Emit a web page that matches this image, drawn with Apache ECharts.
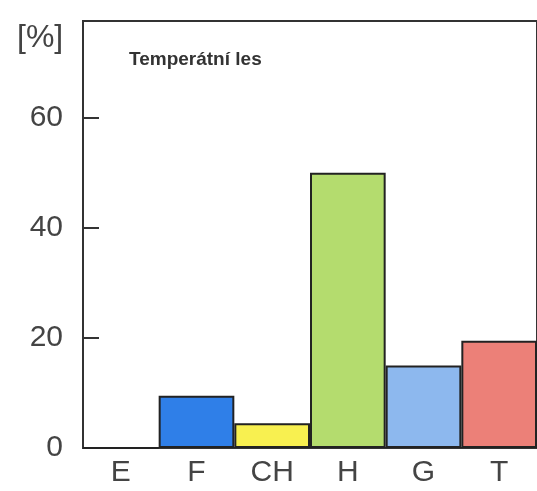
<!DOCTYPE html>
<html>
<head>
<meta charset="utf-8">
<script src="https://cdn.jsdelivr.net/npm/echarts@6/dist/echarts.min.js"></script>
<style>
  html, body { margin: 0; padding: 0; background: #fff; }
  #chart { width: 537px; height: 491px; }
</style>
</head>
<body>
<div id="chart"></div>
<script>
const categories = ['E', 'F', 'CH', 'H', 'G', 'T']
const shares = [0, 9.5, 4.5, 50, 15, 19.5]
const barColors = ['#ffffff', '#2f7fe8', '#f8f050', '#b4dc6e', '#8db8ee', '#ec8078']

const chart = echarts.init(document.getElementById('chart'))
chart.setOption({
  animation: false,
  title: [
    { text: '[%]', left: 12, top: 17, textStyle: { fontSize: 32, fontWeight: 'normal', color: '#444', fontFamily: 'Liberation Sans' } },
    { text: 'Temperátní les', left: 124, top: 45, textStyle: { fontSize: 19, fontWeight: 'bold', color: '#333', fontFamily: 'Liberation Sans' } }
  ],
  grid: { left: 83, right: -3, top: 21, bottom: 43, show: true, borderColor: '#333', borderWidth: 2 },
  xAxis: {
    type: 'category',
    data: categories,
    axisLine: { lineStyle: { color: '#333', width: 2 } },
    axisTick: { show: false },
    axisLabel: { fontSize: 30, color: '#444', margin: 10, fontFamily: 'Liberation Sans' }
  },
  yAxis: {
    type: 'value',
    min: 0,
    max: 77.6,
    interval: 20,
    splitLine: { show: false },
    axisLine: { show: true, lineStyle: { color: '#333', width: 2 } },
    axisTick: { show: true, inside: true, length: 16, lineStyle: { color: '#333', width: 2 } },
    axisLabel: { fontSize: 30, color: '#444', margin: 20, showMaxLabel: false, fontFamily: 'Liberation Sans' }
  },
  series: [{
    type: 'bar',
    barCategoryGap: 0,
    data: shares.map((v, i) => ({ value: v, itemStyle: { color: barColors[i] } })),
    itemStyle: { borderColor: '#222', borderWidth: 2 }
  }]
})
</script>
</body>
</html>
